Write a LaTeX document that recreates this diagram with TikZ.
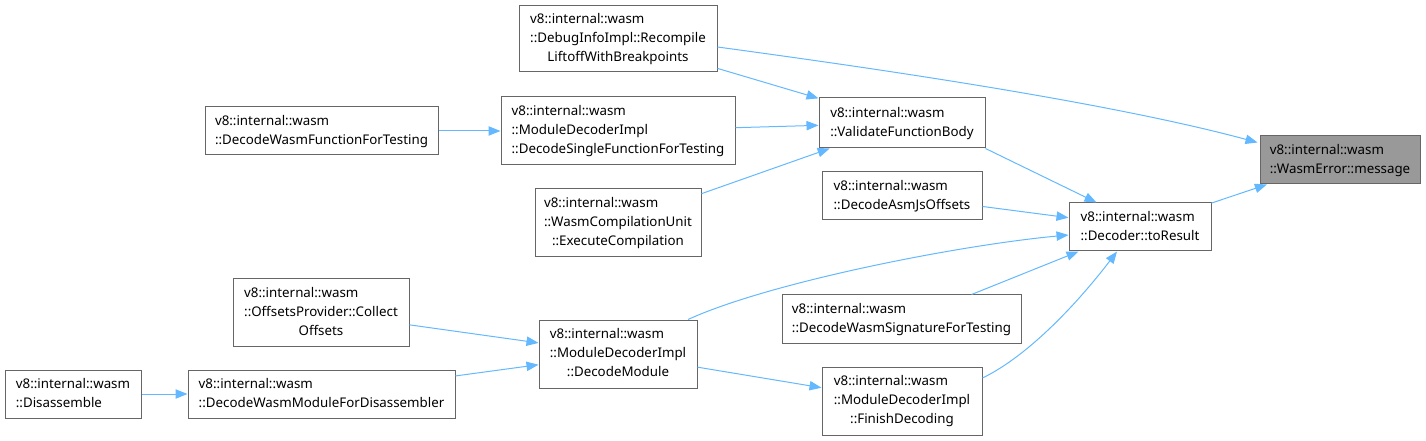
\documentclass[tikz,border=0pt]{standalone}
\usepackage{fontspec}
\setmainfont{Noto Sans}
\usepackage{xcolor}
\usetikzlibrary{arrows.meta,calc}
\definecolor{edgeblue}{HTML}{63B8FF}
\definecolor{boxgray}{HTML}{666666}
\definecolor{hlgray}{HTML}{999999}
\newcommand{\twoln}[2]{\begin{tabular}{@{}l@{}}#1\\#2\end{tabular}}
\newcommand{\threeln}[3]{\begin{tabular}{@{}l@{}}#1\\#2\\\multicolumn{1}{@{}c@{}}{#3}\end{tabular}}

\begin{document}
\begin{tikzpicture}[
  x=0.75pt, y=-0.75pt,
  fn/.style={draw=boxgray, fill=white, line width=0.75pt, inner sep=0pt,
    font=\fontsize{10}{14.25}\selectfont},
  hl/.style={fn, fill=hlgray},
  sz/.style 2 args={minimum width=#1*0.75pt, minimum height=#2*0.75pt},
  e/.style={-{Triangle[length=9pt,width=7pt]}, edgeblue, line width=0.75pt}
]
  \useasboundingbox (0,0) rectangle (1426,441);
  \node[fn, sz={198}{66}] (dbg) at (618,39) {\threeln{v8::internal::wasm}{::DebugInfoImpl::Recompile}{LiftoffWithBreakpoints}};
  \node[fn, sz={233}{48}] (dwft) at (321.5,131) {\twoln{v8::internal::wasm}{::DecodeWasmFunctionForTesting}};
  \node[fn, sz={234}{68}] (dsft) at (618,131) {\threeln{v8::internal::wasm}{::ModuleDecoderImpl}{::DecodeSingleFunctionForTesting}};
  \node[fn, sz={166}{50}] (vfb) at (902,123) {\twoln{v8::internal::wasm}{::ValidateFunctionBody}};
  \node[fn, sz={166}{68}] (exc) at (618,223) {\threeln{v8::internal::wasm}{::WasmCompilationUnit}{::ExecuteCompilation}};
  \node[fn, sz={160}{48}] (ajs) at (902,196) {\twoln{v8::internal::wasm}{::DecodeAsmJsOffsets}};
  \node[hl, sz={160}{48}] (msg) at (1340,160) {\twoln{v8::internal::wasm}{::WasmError::message}};
  \node[fn, sz={142}{48}] (tor) at (1140,227) {\twoln{v8::internal::wasm}{::Decoder::toResult}};
  \node[fn, sz={176}{67}] (col) at (321,312.5) {\threeln{v8::internal::wasm}{::OffsetsProvider::Collect}{Offsets}};
  \node[fn, sz={239}{48}] (sig) at (901.5,319) {\twoln{v8::internal::wasm}{::DecodeWasmSignatureForTesting}};
  \node[fn, sz={158}{68}] (dmod) at (618,354) {\threeln{v8::internal::wasm}{::ModuleDecoderImpl}{::DecodeModule}};
  \node[fn, sz={136}{48}] (dis) at (73,394) {\twoln{v8::internal::wasm}{::Disassemble}};
  \node[fn, sz={267}{48}] (dfd) at (321.5,394) {\twoln{v8::internal::wasm}{::DecodeWasmModuleForDisassembler}};
  \node[fn, sz={160}{68}] (fin) at (902,401) {\threeln{v8::internal::wasm}{::ModuleDecoderImpl}{::FinishDecoding}};
  % callers -> callees
  \draw[e] ($(dbg.east)+(0,8)$) .. controls (850,65) and (1100,100) .. ($(msg.north west)+(-2,7)$);
  \draw[e] (dbg) -- (vfb);
  \draw[e] (dwft) -- (dsft);
  \draw[e] (dsft) -- (vfb);
  \draw[e] (exc) -- (vfb);
  \draw[e] (vfb.south east) -- ($(tor.north west)+(28,0)$);
  \draw[e] (ajs) -- (tor);
  \draw[e] (tor) -- (msg);
  \draw[e] ($(dmod.north)+(70,0)$) .. controls (770,282) and (960,245) .. ($(tor.west)+(0,8)$);
  \draw[e] ($(sig.north)+(70,0)$) -- ($(tor.south west)+(10,0)$);
  \draw[e] ($(fin.east)+(0,-23)$) .. controls (1030,355) and (1080,300) .. ($(tor.south)+(-23,0)$);
  \draw[e] (col) -- (dmod);
  \draw[e] (dfd) -- (dmod);
  \draw[e] (dis) -- (dfd);
  \draw[e] (dmod) -- (fin);
\end{tikzpicture}
\end{document}
